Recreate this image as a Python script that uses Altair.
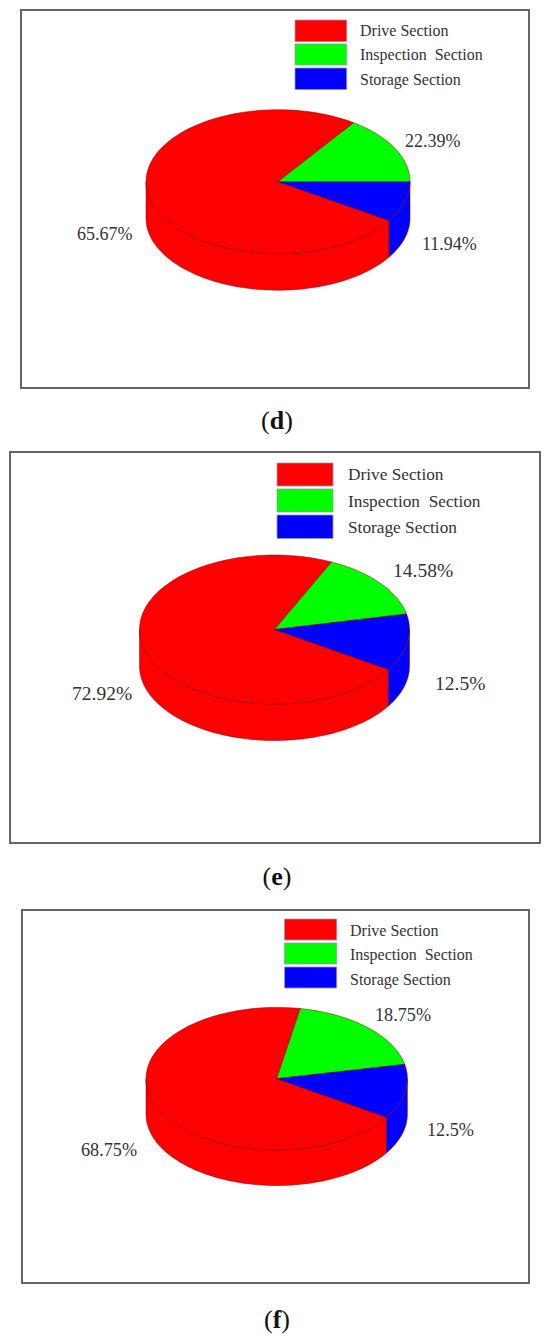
import math
import pandas as pd
import altair as alt

# ---- values ----
sections = ["Drive Section", "Inspection\u00a0 Section", "Storage Section"]
colors = ["#ff0000", "#00ff00", "#0000ff"]
captions = ["d", "e", "f"]
labels_d = ["65.67%", "22.39%", "11.94%"]
labels_e = ["72.92%", "14.58%", "12.5%"]
labels_f = ["68.75%", "18.75%", "12.5%"]
# drawn slice edges on the ellipse, in degrees: drive/inspection, inspection/storage, storage/drive
edges_d = [55, 0, -32.7]
edges_e = [65, 12, -32.5]
edges_f = [79.6, 11.6, -32.8]

# ---- layout (picture pixels) ----
panels = [
    dict(cap="d", labels=labels_d, edges=edges_d, frame=(21, 10, 529, 388), c=(278, 181.7), r=(132, 72), depth=36.5,
         sw=(295, 346.7), rows=[(20, 41.5), (44, 65), (68, 89.5)], lx=360, ly=[30.5, 55, 79.5], lfs=16,
         pos=[(77, 235), (405, 142), (422, 245)], fs=18, capy=421, capw=0.556),
    dict(cap="e", labels=labels_e, edges=edges_e, frame=(10, 452, 540, 843), c=(274.5, 629.5), r=(135, 74.5), depth=36.5,
         sw=(277, 333), rows=[(463, 486), (489, 512), (515, 538.5)], lx=348, ly=[474.5, 501.5, 528], lfs=17.3,
         pos=[(72, 694), (393, 571), (435, 684)], fs=19.5, capy=877, capw=0.444),
    dict(cap="f", labels=labels_f, edges=edges_f, frame=(22, 910, 529, 1283), c=(276.7, 1078.7), r=(130.7, 71.3), depth=35.5,
         sw=(284.5, 336.7), rows=[(919, 940), (943, 964), (967, 988)], lx=350, ly=[930.5, 955, 979.5], lfs=16,
         pos=[(81, 1151), (375, 1016), (427, 1131)], fs=18.2, capy=1320, capw=0.333),
]
cap_x = 277
cap_fs = 26
ink = "#333333"


def arc(p, a0, a1, dy=0.0, n=90):
    cx, cy = p["c"]
    rx, ry = p["r"]
    out = []
    for i in range(n + 1):
        a = math.radians(a0 + (a1 - a0) * i / n)
        out.append((cx + rx * math.cos(a), cy - ry * math.sin(a) + dy))
    return out


polys, frames, swatches, texts, cap_plain, cap_bold = [], [], [], [], [], []


def add_poly(name, color, pts):
    for k, (x, y) in enumerate(pts + pts[:1]):
        polys.append(dict(shape=name, fill=color, seq=k, x=x, y=y))


for p in panels:
    x0, y0, x1, y1 = p["frame"]
    frames.append(dict(x=x0, x2=x1, y=y0, y2=y1))
    a_dg, a_gb, a_br = p["edges"]
    cx, cy = p["c"]
    # side wall
    add_poly(p["cap"] + "wall0", colors[0],
             arc(p, -180, a_br) + arc(p, a_br, -180, p["depth"]))
    add_poly(p["cap"] + "wall2", colors[2],
             arc(p, a_br, 0) + arc(p, 0, a_br, p["depth"]))
    # top face
    add_poly(p["cap"] + "top0", colors[0], [(cx, cy)] + arc(p, a_dg, 360 + a_br))
    add_poly(p["cap"] + "top1", colors[1], [(cx, cy)] + arc(p, a_gb, a_dg))
    add_poly(p["cap"] + "top2", colors[2], [(cx, cy)] + arc(p, a_br, a_gb))
    for i in range(3):
        swatches.append(dict(x=p["sw"][0], x2=p["sw"][1], y=p["rows"][i][0], y2=p["rows"][i][1], fill=colors[i]))
        texts.append(dict(t=sections[i], x=p["lx"], y=p["ly"][i], fs=p["lfs"]))
        texts.append(dict(t=p["labels"][i], x=p["pos"][i][0], y=p["pos"][i][1], fs=p["fs"]))
    half = 0.5 * cap_fs * p["capw"]
    cap_plain.append(dict(t="(", x=cap_x - half, y=p["capy"], a="right"))
    cap_bold.append(dict(t=p["cap"], x=cap_x, y=p["capy"]))
    cap_plain.append(dict(t=")", x=cap_x + half, y=p["capy"], a="left"))

X = alt.Scale(domain=[8, 542], nice=False, zero=False)
Y = alt.Scale(domain=[1335, 8], nice=False, zero=False)
x = alt.X("x:Q", scale=X, axis=None)
y = alt.Y("y:Q", scale=Y, axis=None)
x2 = alt.X2("x2:Q")
y2 = alt.Y2("y2:Q")

frame_layer = alt.Chart(pd.DataFrame(frames)).mark_rect(
    fillOpacity=0, stroke="#666666", strokeWidth=2
).encode(x=x, x2=x2, y=y, y2=y2)

swatch_layer = alt.Chart(pd.DataFrame(swatches)).mark_rect(
    stroke="#9a9aa8", strokeWidth=0.8
).encode(x=x, x2=x2, y=y, y2=y2, fill=alt.Fill("fill:N", scale=None))

poly_layer = alt.Chart(pd.DataFrame(polys)).mark_line(
    stroke="#7a0000", strokeWidth=0.5, interpolate="linear"
).encode(x=x, y=y, order="seq:Q", detail="shape:N",
         fill=alt.Fill("fill:N", scale=None))

text_layer = alt.Chart(pd.DataFrame(texts)).mark_text(
    font="Liberation Serif", align="left", baseline="middle", color=ink
).encode(x=x, y=y, text="t:N", size=alt.Size("fs:Q", scale=None))

plain = pd.DataFrame(cap_plain)
cap_l = alt.Chart(plain[plain.a == "right"]).mark_text(
    font="Liberation Serif", align="right", baseline="middle", fontSize=cap_fs, color="#111111"
).encode(x=x, y=y, text="t:N")
cap_r = alt.Chart(plain[plain.a == "left"]).mark_text(
    font="Liberation Serif", align="left", baseline="middle", fontSize=cap_fs, color="#111111"
).encode(x=x, y=y, text="t:N")
cap_b = alt.Chart(pd.DataFrame(cap_bold)).mark_text(
    font="Liberation Serif", fontWeight="bold", align="center", baseline="middle", fontSize=cap_fs, color="#111111"
).encode(x=x, y=y, text="t:N")

chart = alt.layer(
    frame_layer, swatch_layer, poly_layer, text_layer, cap_l, cap_b, cap_r
).properties(
    width=534, height=1327, padding=0,
    autosize=alt.AutoSizeParams(type="none")
).configure_view(stroke=None)

chart.save("out.html", embed_options={"renderer": "svg", "actions": False})
